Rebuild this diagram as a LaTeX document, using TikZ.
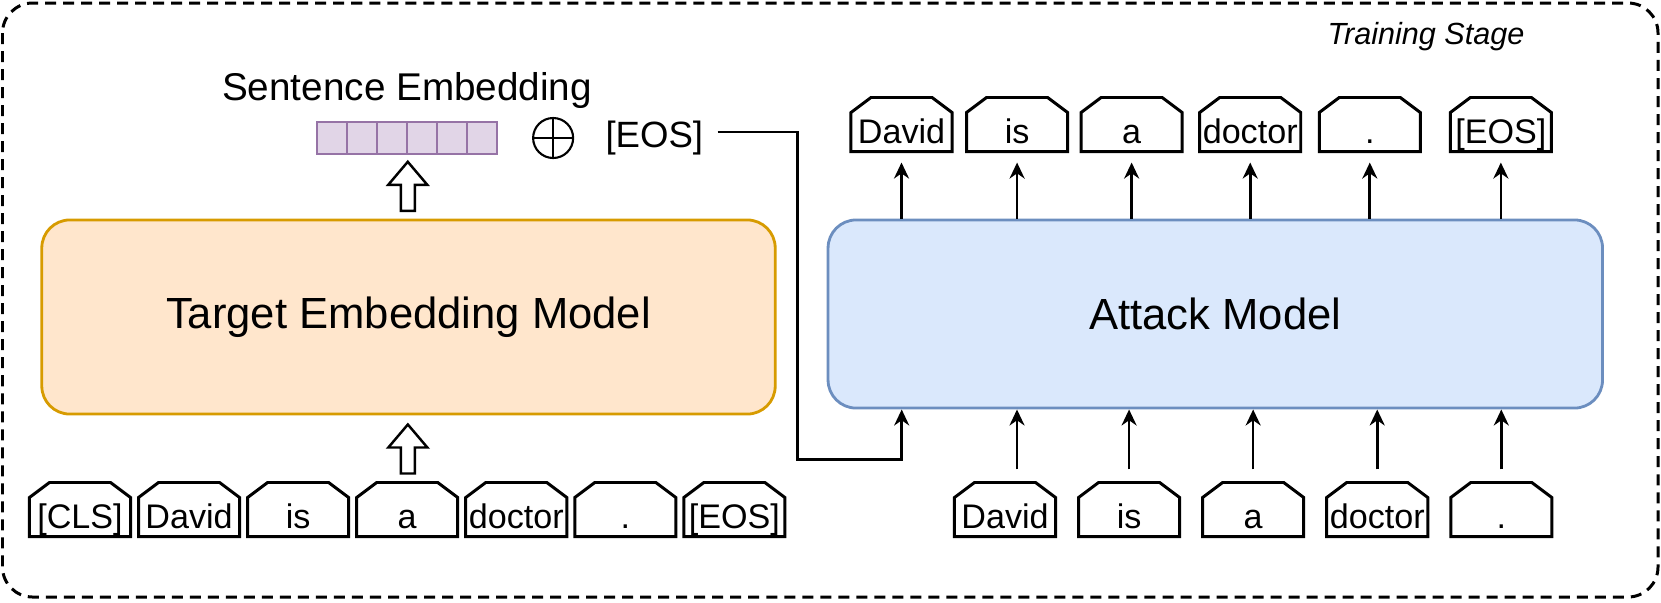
\documentclass[tikz,border=0pt]{standalone}
\usepackage{fontspec}
\setmainfont{Liberation Sans}
\usepackage{tikz}
\usetikzlibrary{arrows.meta,positioning,calc}
\definecolor{orangeFill}{HTML}{FFE6CC}
\definecolor{orangeLine}{HTML}{D79B00}
\definecolor{blueFill}{HTML}{DAE8FC}
\definecolor{blueLine}{HTML}{6C8EBF}
\definecolor{purpleFill}{HTML}{E1D5E7}
\definecolor{purpleLine}{HTML}{9673A6}
\tikzset{
  >=Stealth,
  every picture/.append style={line width=0.8pt},
}
\tikzset{
  tokenBox/.style={minimum width=1.01cm, minimum height=0.54cm, inner sep=0pt, outer sep=0pt, text height=0.384cm, text depth=0pt, font=\fontsize{9.7pt}{11pt}\selectfont,
    append after command={\pgfextra{\draw[line width=0.85pt, line join=miter] ([yshift=-0.15cm]\tikzlastnode.north west) -- ([xshift=0.2cm]\tikzlastnode.north west) -- ([xshift=-0.2cm]\tikzlastnode.north east) -- ([yshift=-0.15cm]\tikzlastnode.north east) -- (\tikzlastnode.south east) -- (\tikzlastnode.south west) -- cycle;}}},
  arrowThin/.style={-{Stealth[length=0.16cm, width=0.15cm]}, line width=0.75pt},
  hollowUp/.pic={\draw[line width=0.7pt, fill=white] (-7,24.5) -- (-7,-1.5) -- (-19.5,-1.5) -- (0,-24.5) -- (19.5,-1.5) -- (7,-1.5) -- (7,24.5) -- cycle;}
}

\begin{document}
\begin{tikzpicture}[
  x=0.01cm, y=-0.01cm,
  frame/.style={draw, dash pattern=on 0.11cm off 0.07cm, line width=0.85pt, rounded corners=0.3cm},
  modelBox/.style={draw, rounded corners=0.28cm, line width=0.8pt, align=center, font=\fontsize{12.4pt}{14pt}\selectfont},
  embCell/.style={draw=purpleLine, fill=purpleFill, line width=0.55pt, minimum width=0.3cm, minimum height=0.32cm, inner sep=0pt, outer sep=0pt},
  plusNode/.style={circle, draw, line width=0.6pt, minimum size=0.4cm, inner sep=0pt, outer sep=0pt, path picture={\draw[line width=0.6pt] (path picture bounding box.north) -- (path picture bounding box.south) (path picture bounding box.west) -- (path picture bounding box.east);}}
]
\useasboundingbox (0,0) rectangle (1661,602);

% Stage frame
\draw[frame] (2.5,3) rectangle (1658,597);
\node[font=\fontsize{8.7pt}{10pt}\selectfont\itshape] (stage) at (1426,37) {Training Stage};

% Models
\node[modelBox, fill=orangeFill, draw=orangeLine, minimum width=7.33cm, minimum height=1.94cm] (target) at (408.5,317) {Target Embedding Model};
\node[modelBox, fill=blueFill, draw=blueLine, minimum width=7.74cm, minimum height=1.88cm, right=0.5cm of target.north east, anchor=north west] (attack) {Attack Model};

% Sentence embedding vector
\node[embCell] (e1) at (332,138) {};
\node[embCell, right=0pt of e1] (e2) {};
\node[embCell, right=0pt of e2] (e3) {};
\node[embCell, right=0pt of e3] (e4) {};
\node[embCell, right=0pt of e4] (e5) {};
\node[embCell, right=0pt of e5] (e6) {};
\node[above=0.2cm of e3.north east, inner sep=0pt, text depth=0pt, font=\fontsize{11pt}{13pt}\selectfont] (embname) {Sentence Embedding};
\node[plusNode, right=0.36cm of e6] (plus) {};
\node[right=0.31cm of plus, inner sep=0pt, font=\fontsize{10.4pt}{12pt}\selectfont] (eos) {[EOS]};

% Input tokens (target model)
\node[tokenBox] (lcls) at (80,509.5) {[CLS]};
\node[tokenBox, right=0.08cm of lcls] (ldavid) {David};
\node[tokenBox, right=0.08cm of ldavid] (lis) {is};
\node[tokenBox, right=0.08cm of lis] (la) {a};
\node[tokenBox, right=0.08cm of la] (ldoctor) {doctor};
\node[tokenBox, right=0.08cm of ldoctor] (ldot) {.};
\node[tokenBox, right=0.08cm of ldot] (leos) {[EOS]};

% Input tokens (attack model)
\node[tokenBox] (bdavid) at (1005,509.5) {David};
\node[tokenBox, right=0.23cm of bdavid] (bis) {is};
\node[tokenBox, right=0.23cm of bis] (ba) {a};
\node[tokenBox, right=0.23cm of ba] (bdoctor) {doctor};
\node[tokenBox, right=0.23cm of bdoctor] (bdot) {.};

% Output tokens (attack model)
\node[tokenBox] (tdavid) at (901.5,124.5) {David};
\node[tokenBox, right=0.145cm of tdavid] (tis) {is};
\node[tokenBox, right=0.135cm of tis] (ta) {a};
\node[tokenBox, right=0.175cm of ta] (tdoctor) {doctor};
\node[tokenBox, right=0.185cm of tdoctor] (tdot) {.};
\node[tokenBox, right=0.3cm of tdot] (teos) {[EOS]};

% Block arrows of the target model
\pic at ($(target.north)!0.5!(e3.south east)$) {hollowUp};
\pic at ($(target.south)!0.5!(la.north)$) {hollowUp};

% [EOS] into the attack model
\coordinate[below left=0.5cm and 0.29cm of attack.south west] (elbow);
\draw[arrowThin] ([xshift=0.13cm, yshift=0.06cm]eos.east) -| (elbow) -| ([xshift=0.75cm]attack.south west);

% Inputs to attack model
\draw[arrowThin, shorten <=0.13cm] ([xshift=0.12cm]bdavid.north) -- ([xshift=0.12cm]bdavid.north |- attack.south);
\draw[arrowThin, shorten <=0.13cm] (bis) -- (bis |- attack.south);
\draw[arrowThin, shorten <=0.13cm] (ba) -- (ba |- attack.south);
\draw[arrowThin, shorten <=0.13cm] (bdoctor) -- (bdoctor |- attack.south);
\draw[arrowThin, shorten <=0.13cm] (bdot) -- (bdot |- attack.south);

% Outputs of attack model
\draw[arrowThin, shorten >=0.11cm] (tdavid |- attack.north) -- (tdavid);
\draw[arrowThin, shorten >=0.11cm] (tis |- attack.north) -- (tis);
\draw[arrowThin, shorten >=0.11cm] (ta |- attack.north) -- (ta);
\draw[arrowThin, shorten >=0.11cm] (tdoctor |- attack.north) -- (tdoctor);
\draw[arrowThin, shorten >=0.11cm] (tdot |- attack.north) -- (tdot);
\draw[arrowThin, shorten >=0.11cm] (teos |- attack.north) -- (teos);

\end{tikzpicture}
\end{document}
